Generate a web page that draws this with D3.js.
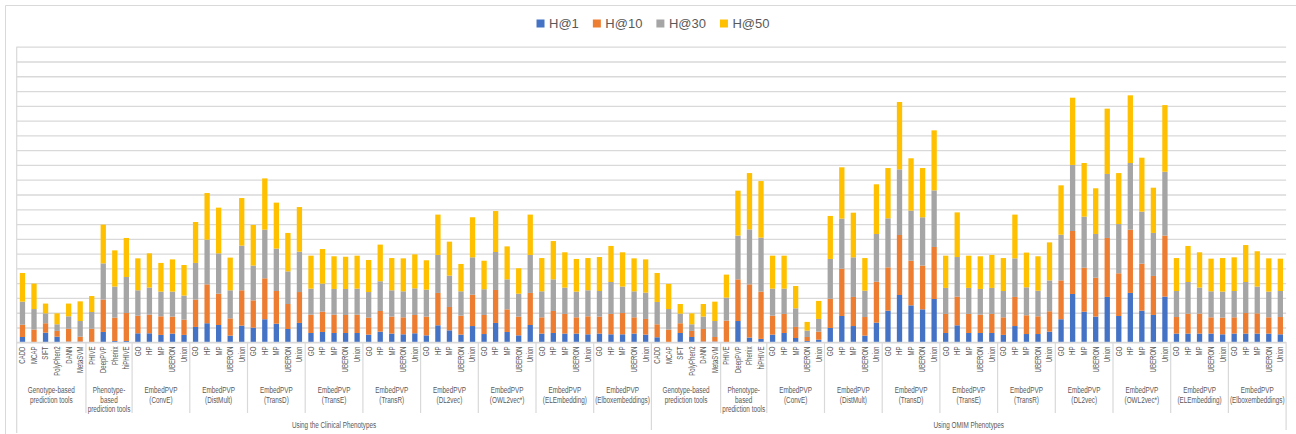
<!DOCTYPE html>
<html><head><meta charset="utf-8">
<script src="https://cdn.jsdelivr.net/npm/d3@7"></script>
<style>html,body{margin:0;padding:0;background:#fff;} svg{display:block;}</style>
</head><body><svg id="chart" width="1296" height="434"></svg>
<script>
// ---------- data ----------
const settings = ["Using the Clinical Phenotypes", "Using OMIM Phenotypes"];
const genotypeTools = ["CADD", "MCAP", "SIFT", "PolyPhen2", "DANN", "MetaSVM"];
const phenotypeTools = ["PHIVE", "DeepPVP", "Phenix", "hiPHIVE"];
const embeddings = ["ConvE", "DistMult", "TransD", "TransE", "TransR", "DL2vec", "OWL2vec*", "ELEmbedding", "Elboxembeddings"];
const ontologies = ["GO", "HP", "MP", "UBERON", "Union"];
const seriesNames = ["H@1", "H@10", "H@30", "H@50"];
const seriesColors = ["#4472C4", "#ED7D31", "#A5A5A5", "#FFC000"];

// Clinical phenotypes (order: genotype tools, phenotype tools, 9 embeddings x 5 ontologies)
const h1Clinical = [.36,0,.65,.38,.05,.05,0,.70,.09,.09, .61,.61,.50,.59,.50, 1.04,1.29,1.17,.45,1.13, .99,1.56,1.26,.90,1.31, .63,.70,.63,.63,.63, .52,.72,.59,.54,.61, .47,1.15,.81,.52,1.10, .56,1.31,.70,.47,1.17, .59,.63,.59,.59,.54, .59,.54,.54,.59,.52];
const h10Clinical = [.83,.86,.64,.39,.87,.33,.92,2.19,1.58,1.89, 1.19,1.26,1.26,1.15,1.03, 1.85,2.63,2.12,1.17,2.39, 1.85,2.77,2.21,1.69,2.09, 1.24,1.37,1.24,1.22,1.24, 1.15,1.40,1.15,1.15,1.24, 1.27,2.19,1.58,1.28,2.12, 1.29,2.23,1.53,1.27,2.17, 1.10,1.49,1.33,1.10,1.22, 1.15,1.38,1.44,1.10,1.06];
const h30Clinical = [1.56,1.39,.67,.45,.84,1.06,1.13,2.45,2.10,2.44, 1.72,1.83,1.67,1.69,1.63, 2.48,3.02,2.73,1.90,3.02, 2.35,3.29,2.87,2.21,2.73, 1.76,1.90,1.74,1.76,1.76, 1.73,2.01,1.78,1.76,1.80, 1.82,2.57,2.12,1.65,2.53, 1.74,2.57,2.03,1.55,2.57, 1.76,2.14,1.78,1.74,1.76, 1.73,2.16,1.79,1.76,1.78];
const h50Clinical = [1.94,1.72,.66,.74,.86,1.33,1.08,2.62,2.45,2.64, 2.16,2.32,1.94,2.18,2.07, 2.77,3.16,3.09,2.21,3.22, 2.75,3.47,3.11,2.60,3.02, 2.23,2.34,2.21,2.18,2.23, 2.17,2.48,2.18,2.23,2.30, 1.99,2.73,2.30,1.85,2.71, 1.93,2.77,2.23,1.72,2.73, 2.25,2.59,2.39,2.21,2.18, 2.30,2.44,2.32,2.23,2.25];

// OMIM phenotypes
const h1Omim = [.34,0,.63,.36,.05,.05,0,1.44,.32,.23, .52,.63,.29,.09,.18, .97,1.78,1.10,.45,1.33, 2.14,3.20,2.50,2.23,2.93, .63,1.15,.63,.63,.63, .50,1.10,.56,.56,.72, 1.56,3.27,2.07,1.74,3.07, 1.78,3.34,2.14,1.85,3.09, .59,.59,.59,.59,.54, .59,.59,.59,.59,.54];
const h10Omim = [.88,.86,.66,.41,.85,.31,1.47,2.82,3.60,3.20, 1.28,1.29,.75,.27,.54, 1.98,3.20,1.97,1.26,2.77, 2.93,4.06,3.02,2.96,3.52, 1.29,1.94,1.29,1.24,1.29, 1.19,1.97,1.27,1.20,1.38, 2.63,4.26,2.98,2.63,3.99, 2.89,4.28,3.18,2.64,4.13, 1.12,1.35,1.35,1.10,1.13, 1.10,1.39,1.37,1.10,1.17];
const h30Omim = [1.51,1.39,.65,.45,.84,1.08,1.55,2.96,3.72,3.65, 1.83,1.71,1.26,.43,.86, 2.69,3.39,2.68,1.78,3.23, 3.32,4.44,3.39,3.27,3.83, 1.76,2.68,1.76,1.74,1.76, 1.78,2.61,1.89,1.73,2.09, 3.09,4.47,3.45,2.96,4.33, 3.33,4.51,3.52,2.91,4.32, 1.76,2.14,1.76,1.76,1.76, 1.78,2.10,1.81,1.74,1.76];
const h50Omim = [1.96,1.70,.65,.74,.85,1.31,1.56,3.04,3.81,3.83, 2.23,2.23,1.51,.59,1.22, 2.91,3.47,3.02,2.21,3.36, 3.40,4.56,3.54,3.33,4.06, 2.18,3.02,2.18,2.21,2.23, 2.23,2.96,2.35,2.33,2.57, 3.34,4.55,3.63,3.09,4.42, 3.45,4.58,3.65,3.06,4.51, 2.23,2.44,2.39,2.21,2.27, 2.28,2.50,2.39,2.25,2.19];

const yMax = 20;
const gridStep = 1;

// ---------- build table ----------
const valuesBySetting = [
  [h1Clinical, h10Clinical, h30Clinical, h50Clinical],
  [h1Omim, h10Omim, h30Omim, h50Omim]
];
const groupDefs = [
  {lines: ["Genotype-based", "prediction tools"], cats: genotypeTools},
  {lines: ["Phenotype-", "based", "prediction tools"], cats: phenotypeTools},
  ...embeddings.map(e => ({lines: ["EmbedPVP", "(" + e + ")"], cats: ontologies}))
];
const rows = [];
const groups = [];
const halves = [];
settings.forEach((s, si) => {
  const v = valuesBySetting[si];
  const hStart = rows.length;
  let i = 0;
  groupDefs.forEach(g => {
    const gStart = rows.length;
    g.cats.forEach(c => {
      rows.push({key: si + "|" + rows.length, label: c, "H@1": v[0][i], "H@10": v[1][i], "H@30": v[2][i], "H@50": v[3][i]});
      i++;
    });
    groups.push({lines: g.lines, start: gStart, end: rows.length});
  });
  halves.push({label: s, start: hStart, end: rows.length});
});

// ---------- layout ----------
const plotL = 16.7, plotR = 1286.1, plotT = 46.7, plotB = 342.3;
const textColor = "#595959";
const lineColor = "#d9d9d9";
const font = "'Liberation Sans', Arial, sans-serif";
const squeeze = 0.74; // narrow glyphs like the original condensed label font

const svg = d3.select("#chart");
svg.append("rect").attr("width", 1296).attr("height", 434).attr("fill", "#fff");

// outer chart border
svg.append("path").attr("d", "M5.5,434 V5.5 H1296").attr("fill", "none").attr("stroke", lineColor).attr("stroke-width", 1);

const x = d3.scaleBand().domain(rows.map(r => r.key)).range([plotL, plotR]).paddingInner(0.54).paddingOuter(0.27);
const y = d3.scaleLinear().domain([0, yMax]).range([plotB, plotT]);
const step = x.step();
const bx = i => plotL + i * step;

// gridlines
const grid = svg.append("g").attr("transform", `translate(${plotL},0)`)
  .call(d3.axisLeft(y).ticks(yMax / gridStep).tickSize(-(plotR - plotL)).tickFormat(""));
grid.select(".domain").remove();
grid.selectAll(".tick line").attr("stroke", lineColor).attr("stroke-width", 1.3);

// stacked bars
const stack = d3.stack().keys(seriesNames)(rows);
svg.append("g").selectAll("g").data(stack).join("g")
  .attr("fill", (d, i) => seriesColors[i])
  .selectAll("rect").data(d => d).join("rect")
  .attr("x", d => x(d.data.key))
  .attr("width", x.bandwidth())
  .attr("y", d => y(d[1]))
  .attr("height", d => Math.max(0, y(d[0]) - y(d[1])));

// axis lines
const ax = svg.append("g").attr("stroke", lineColor).attr("stroke-width", 1.2);
ax.append("line").attr("x1", plotL).attr("x2", plotR).attr("y1", plotB).attr("y2", plotB);
ax.append("line").attr("x1", plotL).attr("x2", plotL).attr("y1", plotT).attr("y2", 433);
groups.forEach(g => {
  if (g.start === 0) return;
  const isHalf = halves.some(h => h.start === g.start);
  ax.append("line").attr("x1", bx(g.start)).attr("x2", bx(g.start))
    .attr("y1", plotB).attr("y2", isHalf ? 430 : 413);
});
ax.append("line").attr("x1", plotR).attr("x2", plotR).attr("y1", plotB).attr("y2", 430);

// level 1 labels
svg.append("g").selectAll("text").data(rows).join("text")
  .attr("transform", d => `translate(${x(d.key) + x.bandwidth() / 2},346.5) rotate(-90) scale(${squeeze},1)`)
  .attr("text-anchor", "end").attr("dy", "0.35em")
  .attr("font-family", font).attr("font-size", 8.2)
  .attr("fill", textColor).text(d => d.label);

// level 2 labels
const g2 = svg.append("g").attr("font-family", font).attr("font-size", 8.6).attr("fill", textColor).attr("text-anchor", "middle");
groups.forEach(g => {
  const cx = (bx(g.start) + bx(g.end)) / 2;
  g.lines.forEach((ln, li) => {
    g2.append("text").attr("transform", `translate(${cx},${390 + li * 9.7}) scale(${squeeze},1)`)
      .attr("dy", "0.35em").text(ln);
  });
});

// level 3 labels
svg.append("g").selectAll("text").data(halves).join("text")
  .attr("transform", d => `translate(${(bx(d.start) + bx(d.end)) / 2},424.5) scale(${squeeze},1)`)
  .attr("dy", "0.35em")
  .attr("text-anchor", "middle").attr("font-family", font).attr("font-size", 8.6)
  .attr("fill", textColor).text(d => d.label);

// legend
const leg = svg.append("g");
const items = seriesNames.map((s, i) => {
  const g = leg.append("g");
  g.append("rect").attr("width", 8).attr("height", 8).attr("y", 19.5).attr("fill", seriesColors[i]);
  const t = g.append("text").attr("x", 12.5).attr("y", 23.5).attr("dy", "0.35em")
    .attr("font-family", font).attr("font-size", 13)
    .attr("fill", textColor).text(s);
  return {g, w: 12.5 + t.node().getComputedTextLength()};
});
const gap = 14;
const total = d3.sum(items, d => d.w) + gap * (items.length - 1);
let cx0 = 653 - total / 2;
items.forEach(it => { it.g.attr("transform", `translate(${cx0},0)`); cx0 += it.w + gap; });
</script>
</body></html>
